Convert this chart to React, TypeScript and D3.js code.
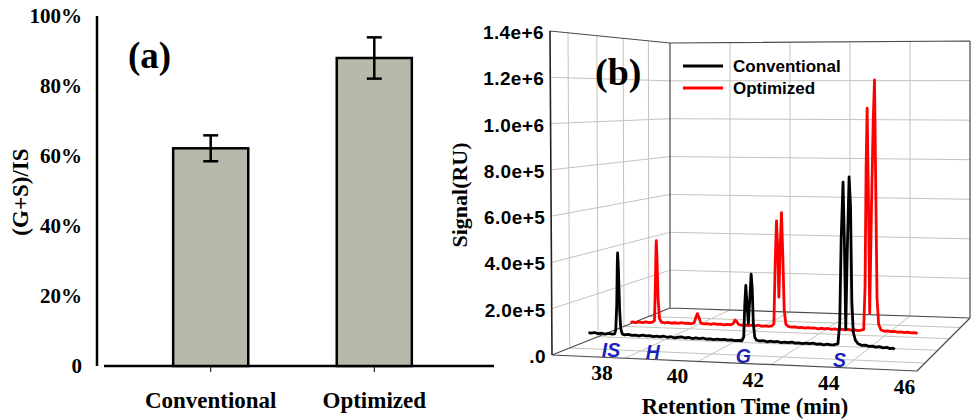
import React from 'react';
import * as d3 from 'd3';

// ---- panel (a) data
const categories = ['Conventional', 'Optimized'];
const ratioMean = [0.622, 0.88];
const ratioErr = [0.037, 0.059];
const ratioTicks = [0, 0.2, 0.4, 0.6, 0.8, 1.0];
const ratioTickLabels = ['0', '20%', '40%', '60%', '80%', '100%'];

// ---- panel (b) data (retention time in min, signal in RU)
const convTime = [
  36.53, 36.6, 36.7, 36.8, 36.9, 37.0, 37.1, 37.2, 37.27, 37.3, 37.33, 37.35, 37.36, 37.38, 37.41, 37.44, 37.48,
  37.55, 37.65, 37.75, 37.85, 37.95, 38.05, 38.15, 38.25, 38.35, 38.45, 38.55, 38.65, 38.75, 38.85, 38.95,
  39.05, 39.15, 39.25, 39.35, 39.45, 39.55, 39.65, 39.75, 39.85, 39.95, 40.05, 40.15, 40.25, 40.35, 40.45,
  40.55, 40.65, 40.75, 40.85, 40.9, 40.93, 40.96, 40.99, 41.03, 41.07, 41.11, 41.14, 41.17, 41.21, 41.26,
  41.35, 41.45, 41.55, 41.65, 41.75, 41.85, 41.95, 42.05, 42.15, 42.25, 42.35, 42.45, 42.55, 42.65, 42.75,
  42.85, 42.95, 43.05, 43.15, 43.25, 43.35, 43.45, 43.55, 43.6, 43.64, 43.69, 43.73, 43.77, 43.81, 43.86,
  43.9, 43.94, 43.98, 44.04, 44.12, 44.22, 44.32, 44.42, 44.52, 44.62, 44.72, 44.82, 44.92, 45.02, 45.1, 45.15,
];
const convSignal = [
  72000, 70000, 73000, 69000, 71000, 68000, 72000, 69000, 71000, 90000, 200000, 380000, 428000, 360000, 180000, 95000, 72000,
  68000, 71000, 67000, 69000, 66000, 70000, 67000, 69000, 65000, 68000, 66000, 69000, 65000, 68000, 64000,
  67000, 69000, 65000, 68000, 64000, 67000, 65000, 68000, 64000, 66000, 63000, 66000, 64000, 66000, 63000,
  65000, 62000, 64000, 63000, 80000, 220000, 304000, 230000, 140000, 240000, 353000, 290000, 140000, 80000, 68000,
  65000, 67000, 63000, 66000, 64000, 66000, 62000, 65000, 63000, 66000, 62000, 64000, 61000, 64000, 62000,
  65000, 61000, 63000, 60000, 63000, 61000, 62000, 66000, 150000, 520000, 760000, 500000, 130000, 460000, 782000,
  660000, 250000, 120000, 85000, 70000, 64000, 66000, 61000, 63000, 59000, 62000, 57000, 60000, 55000, 58000, 53000,
];
const optTime = [
  36.59, 36.65, 36.75, 36.85, 36.95, 37.05, 37.15, 37.25, 37.31, 37.34, 37.36, 37.37, 37.39, 37.42, 37.46,
  37.52, 37.62, 37.72, 37.82, 37.92, 38.02, 38.12, 38.22, 38.32, 38.42, 38.5, 38.55, 38.6, 38.65, 38.7,
  38.8, 38.9, 39.0, 39.1, 39.2, 39.3, 39.4, 39.5, 39.6, 39.68, 39.73, 39.78, 39.84, 39.94, 40.04, 40.14,
  40.24, 40.34, 40.44, 40.54, 40.64, 40.74, 40.84, 40.9, 40.94, 40.98, 41.02, 41.05, 41.09, 41.13, 41.17,
  41.21, 41.26, 41.33, 41.43, 41.53, 41.63, 41.73, 41.83, 41.93, 42.03, 42.13, 42.23, 42.33, 42.43, 42.53,
  42.63, 42.73, 42.83, 42.93, 43.03, 43.13, 43.23, 43.33, 43.43, 43.53, 43.6, 43.64, 43.67, 43.7, 43.74,
  43.78, 43.83, 43.88, 43.92, 43.96, 44.0, 44.05, 44.12, 44.22, 44.32, 44.42, 44.52, 44.62, 44.72, 44.82,
  44.92, 45.02, 45.12, 45.22,
];
const optSignal = [
  46000, 50000, 47000, 51000, 48000, 52000, 49000, 52000, 60000, 240000, 400000, 437000, 350000, 160000, 70000,
  53000, 51000, 54000, 50000, 53000, 51000, 55000, 52000, 54000, 51000, 56000, 80000, 100000, 80000, 56000,
  53000, 55000, 52000, 56000, 53000, 55000, 52000, 55000, 53000, 60000, 76000, 70000, 56000, 53000, 55000, 52000,
  55000, 53000, 56000, 52000, 54000, 52000, 55000, 65000, 350000, 544000, 400000, 190000, 420000, 583000, 380000,
  130000, 65000, 56000, 53000, 55000, 52000, 54000, 51000, 54000, 52000, 53000, 50000, 53000, 51000, 53000,
  50000, 52000, 49000, 52000, 50000, 52000, 49000, 51000, 48000, 51000, 55000, 250000, 800000, 1070000, 650000,
  130000, 600000, 1000000, 1200000, 700000, 200000, 80000, 55000, 50000, 52000, 49000, 51000, 48000, 50000, 47000,
  50000, 47000, 49000, 46000,
];
const signalTicks = [0, 2e5, 4e5, 6e5, 8e5, 1.0e6, 1.2e6, 1.4e6];
const signalTickLabels = ['.0', '2.0e+5', '4.0e+5', '6.0e+5', '8.0e+5', '1.0e+6', '1.2e+6', '1.4e+6'];
const timeTicks = [38, 40, 42, 44, 46];
const depthGrid = [0.15, 0.39, 0.61, 0.82];
const peakNames = ['IS', 'H', 'G', 'S'];
const peakTimes = [37.5, 38.65, 41.15, 43.8];
const legendNames = ['Conventional', 'Optimized'];

const serif = '"Liberation Serif", "Times New Roman", serif';
const sans = '"Liberation Sans", Arial, sans-serif';

// box corners on screen: p[u][v][w]
const P: Record<string, [number, number]> = {
  p000: [552, 355], p100: [917, 371], p010: [670, 308], p110: [970, 318],
  p001: [550, 31], p101: [918, 31], p011: [670, 43], p111: [970, 41],
};
const lerp = (a: [number, number], b: [number, number], t: number): [number, number] =>
  [a[0] + (b[0] - a[0]) * t, a[1] + (b[1] - a[1]) * t];
function proj(u: number, v: number, w: number): [number, number] {
  const a = lerp(P.p000, P.p100, u), b = lerp(P.p010, P.p110, u);
  const c = lerp(P.p001, P.p101, u), d = lerp(P.p011, P.p111, u);
  return lerp(lerp(a, b, v), lerp(c, d, v), w);
}

export default function App() {
  // panel a scales
  const xBand = d3.scaleBand<string>().domain(categories).range([129, 456]).paddingInner(0.541).paddingOuter(0.27);
  const yA = d3.scaleLinear().domain([0, 1]).range([366, 16]);

  // panel b scales
  const tS = d3.scaleLinear().domain([36, 46]).range([0, 1]);
  const zS = d3.scaleLinear().domain([0, 1.4e6]).range([0, 1]);
  const convDepth = 0.15, optDepth = 0.5;

  const trace = (times: number[], sig: number[], depth: number) => {
    const pts = times.map((t, i) => proj(tS(t), depth, zS(sig[i])));
    return d3.line()(pts) || '';
  };
  const seg = (a: [number, number], b: [number, number]) => `M${a[0]},${a[1]}L${b[0]},${b[1]}`;

  const grid: string[] = [];
  signalTicks.slice(1, -1).forEach(s => {
    grid.push(seg(proj(0, 0, zS(s)), proj(0, 1, zS(s))));
    grid.push(seg(proj(0, 1, zS(s)), proj(1, 1, zS(s))));
  });
  timeTicks.slice(0, -1).forEach(t => {
    grid.push(seg(proj(tS(t), 1, 0), proj(tS(t), 1, 1)));
    grid.push(seg(proj(tS(t), 0, 0), proj(tS(t), 1, 0)));
  });
  depthGrid.forEach(v => {
    grid.push(seg(proj(0, v, 0), proj(0, v, 1)));
    grid.push(seg(proj(0, v, 0), proj(1, v, 0)));
  });

  const edges = [
    seg(proj(0, 0, 1), proj(0, 1, 1)),
    seg(proj(0, 1, 1), proj(1, 1, 1)),
    seg(proj(0, 1, 0), proj(0, 1, 1)),
    seg(proj(1, 1, 0), proj(1, 1, 1)),
    seg(proj(0, 0, 0), proj(1, 0, 0)),
    seg(proj(1, 0, 0), proj(1, 1, 0)),
    seg(proj(0, 0, 0), proj(0, 1, 0)),
    seg(proj(0, 1, 0), proj(1, 1, 0)),
  ];

  return (
    <svg width={972} height={419} style={{ display: 'block', position: 'absolute', left: 0, top: 0, background: '#fff' }}>
      {/* ---------- panel (a) ---------- */}
      <g>
        <line x1={97} y1={16} x2={97} y2={366} stroke="#000" strokeWidth={2.5} />
        <line x1={104} y1={366} x2={494} y2={366} stroke="#000" strokeWidth={2.5} />
        {ratioTicks.map((v, i) => (
          <text key={i} x={82} y={yA(v) + 7} textAnchor="end" fontFamily={serif} fontWeight="bold" fontSize={21}>
            {ratioTickLabels[i]}
          </text>
        ))}
        {categories.map((c, i) => {
          const x = xBand(c)!;
          const bw = xBand.bandwidth();
          const cx = x + bw / 2;
          return (
            <g key={c}>
              <rect x={x} y={yA(ratioMean[i])} width={bw} height={yA(0) - yA(ratioMean[i])}
                fill="#b9b9ab" stroke="#000" strokeWidth={2.5} />
              <line x1={cx} x2={cx} y1={yA(ratioMean[i] - ratioErr[i])} y2={yA(ratioMean[i] + ratioErr[i])} stroke="#000" strokeWidth={2.5} />
              <line x1={cx - 7.5} x2={cx + 7.5} y1={yA(ratioMean[i] - ratioErr[i])} y2={yA(ratioMean[i] - ratioErr[i])} stroke="#000" strokeWidth={2.5} />
              <line x1={cx - 7.5} x2={cx + 7.5} y1={yA(ratioMean[i] + ratioErr[i])} y2={yA(ratioMean[i] + ratioErr[i])} stroke="#000" strokeWidth={2.5} />
              <line x1={cx} x2={cx} y1={367} y2={372} stroke="#000" strokeWidth={1} />
              <text x={cx} y={408} textAnchor="middle" fontFamily={serif} fontWeight="bold" fontSize={23}>{c}</text>
            </g>
          );
        })}
        <text transform="translate(28,192) rotate(-90)" textAnchor="middle" fontFamily={serif} fontWeight="bold" fontSize={23}>(G+S)/IS</text>
        <text x={128} y={68} fontFamily={serif} fontWeight="bold" fontSize={37}>(a)</text>
      </g>

      {/* ---------- panel (b) ---------- */}
      <g>
        <path d={grid.join('')} stroke="#c4c4bb" strokeWidth={1} fill="none" />
        <path d={edges.join('')} stroke="#4a4a4a" strokeWidth={1.2} fill="none" />
        <path d={seg(proj(0, 0, 0), proj(0, 0, 1))} stroke="#222" strokeWidth={1.6} />
        <path d={trace(optTime, optSignal, optDepth)} stroke="#ff0000" strokeWidth={2.8} fill="none" strokeLinejoin="round" />
        <path d={trace(convTime, convSignal, convDepth)} stroke="#000" strokeWidth={2.8} fill="none" strokeLinejoin="round" />
        {signalTicks.map((s, i) => {
          const [x, y] = proj(0, 0, zS(s));
          return (
            <text key={i} x={x - 6} y={y + 8} textAnchor="end" fontFamily={sans} fontWeight="bold" fontSize={19} letterSpacing={0.4}>
              {signalTickLabels[i]}
            </text>
          );
        })}
        {timeTicks.map(t => {
          const [x, y] = proj(tS(t), -0.2, 0);
          return (
            <text key={t} x={x - 2} y={y + 12} textAnchor="middle" fontFamily={serif} fontWeight="bold" fontSize={21.5}>{t}</text>
          );
        })}
        {peakNames.map((n, i) => {
          const [x, y] = proj(tS(peakTimes[i]), 0.04, 0);
          return (
            <text key={n} x={x} y={y + 2} textAnchor="middle" fontFamily={sans} fontWeight="bold" fontStyle="italic" fontSize={19.5} fill="#1c24b8">{n}</text>
          );
        })}
        <text transform="translate(467,195) rotate(-90)" textAnchor="middle" fontFamily={serif} fontWeight="bold" fontSize={22}>Signal(RU)</text>
        <text x={745} y={414} textAnchor="middle" fontFamily={serif} fontWeight="bold" fontSize={22.5}>Retention Time (min)</text>
        <text x={595} y={85} fontFamily={serif} fontWeight="bold" fontSize={38}>(b)</text>
        {legendNames.map((n, i) => (
          <g key={n}>
            <line x1={683} x2={723} y1={66 + i * 22} y2={66 + i * 22} stroke={i === 0 ? '#000' : '#ff0000'} strokeWidth={3} />
            <text x={733} y={72 + i * 22} fontFamily={sans} fontWeight="bold" fontSize={17}>{n}</text>
          </g>
        ))}
      </g>
    </svg>
  );
}
